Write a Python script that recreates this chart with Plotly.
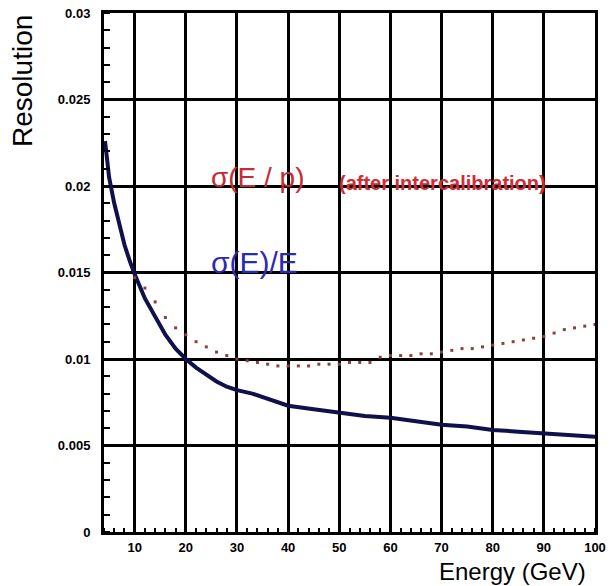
import plotly.graph_objects as go

# Data
energy_ep = [10, 12, 14, 16, 18, 20, 22, 24, 26, 28, 30, 32, 34, 36, 38, 40, 42, 44, 46, 48,
             50, 52, 54, 56, 58, 60, 62, 64, 66, 68, 70, 72, 74, 76, 78, 80, 82, 84, 86, 88,
             90, 92, 94, 96, 98, 100]
res_ep = [0.0147, 0.0141, 0.0133, 0.0124, 0.0118, 0.0114, 0.0110, 0.0107, 0.0104, 0.0102,
          0.0100, 0.0099, 0.0098, 0.0097, 0.0096, 0.0096, 0.0096, 0.0096, 0.0097, 0.0097,
          0.0097, 0.0098, 0.0098, 0.0098, 0.0101, 0.0102, 0.0102, 0.0102, 0.0103, 0.0103,
          0.0104, 0.0105, 0.0106, 0.0106, 0.0107, 0.0108, 0.0109, 0.0110, 0.0111, 0.0112,
          0.0113, 0.0115, 0.0117, 0.0118, 0.0119, 0.0120]

energy_e = [4.2, 5, 6, 7, 8, 9, 10, 12, 14, 16, 18, 20, 22, 24, 26, 28, 30, 33, 36, 40,
            45, 50, 55, 60, 65, 70, 75, 80, 85, 90, 95, 100]
res_e = [0.0226, 0.0205, 0.0190, 0.0177, 0.0166, 0.0157, 0.0149, 0.0135, 0.0124, 0.0114,
         0.0106, 0.0100, 0.0095, 0.0091, 0.0087, 0.0084, 0.0082, 0.0080, 0.0077, 0.0073,
         0.0071, 0.0069, 0.0067, 0.0066, 0.0064, 0.0062, 0.0061, 0.0059, 0.0058, 0.0057,
         0.0056, 0.0055]

x_tickvals = [10, 20, 30, 40, 50, 60, 70, 80, 90, 100]
x_ticktext = ["10", "20", "30", "40", "50", "60", "70", "80", "90", "100"]
y_tickvals = [0, 0.005, 0.01, 0.015, 0.02, 0.025, 0.03]
y_ticktext = ["0", "0.005", "0.01", "0.015", "0.02", "0.025", "0.03"]

fig = go.Figure()
fig.add_trace(go.Scatter(x=energy_e, y=res_e, mode="lines",
                         line=dict(color="#10104a", width=4), showlegend=False))
fig.add_trace(go.Scatter(x=energy_ep, y=res_ep, mode="markers",
                         marker=dict(symbol="square", size=3, color="#8b4040"),
                         showlegend=False))

axis_common = dict(showline=True, linecolor="black", linewidth=3, mirror=True,
                   showgrid=True, gridcolor="black", gridwidth=3, zeroline=False,
                   ticks="", ticklabeloverflow="allow",
                   tickfont=dict(family="Liberation Sans", size=13, color="black",
                                 weight="bold"))

fig.update_xaxes(range=[4, 100], tickvals=x_tickvals, ticktext=x_ticktext,
                 minor=dict(dtick=2, tick0=0, ticks="inside", ticklen=4, tickwidth=2,
                            tickcolor="black", showgrid=False),
                 ticklabelstandoff=1, **axis_common)
fig.update_yaxes(range=[0, 0.03], tickvals=y_tickvals, ticktext=y_ticktext,
                 minor=dict(dtick=0.001, tick0=0, ticks="inside", ticklen=6, tickwidth=2,
                            tickcolor="black", showgrid=False),
                 ticklabelstandoff=8, **axis_common)

fig.add_annotation(text="Resolution", xref="paper", yref="paper", x=-0.167, y=1.0,
                   xanchor="center", yanchor="top", textangle=-90, showarrow=False,
                   font=dict(family="Liberation Sans", size=28, color="black"))
fig.add_annotation(text="Energy (GeV)", xref="paper", yref="paper", x=0.986, y=-0.0462,
                   xanchor="right", yanchor="top", showarrow=False,
                   font=dict(family="Liberation Sans", size=24, color="black"))
fig.add_annotation(text="σ(E / p)", x=24.6, y=0.0205, xanchor="left", yanchor="middle",
                   showarrow=False,
                   font=dict(family="Liberation Sans", size=28, color="#c42c35"))
fig.add_annotation(text="(after intercalibration)", x=49.6, y=0.0202, xanchor="left",
                   yanchor="middle", showarrow=False,
                   font=dict(family="Liberation Sans", size=20, color="#d02c35", weight="bold"))
fig.add_annotation(text="σ(E)/E", x=24.6, y=0.0156, xanchor="left", yanchor="middle",
                   showarrow=False,
                   font=dict(family="Liberation Sans", size=30, color="#2a2ab4"))

fig.update_layout(width=610, height=586, plot_bgcolor="white", paper_bgcolor="white",
                  margin=dict(l=104, r=15, t=13, b=54, autoexpand=False), showlegend=False)

fig.write_html("out.html", config={"displayModeBar": False},
               post_script="document.body.style.margin='0';document.body.style.overflow='hidden';")
